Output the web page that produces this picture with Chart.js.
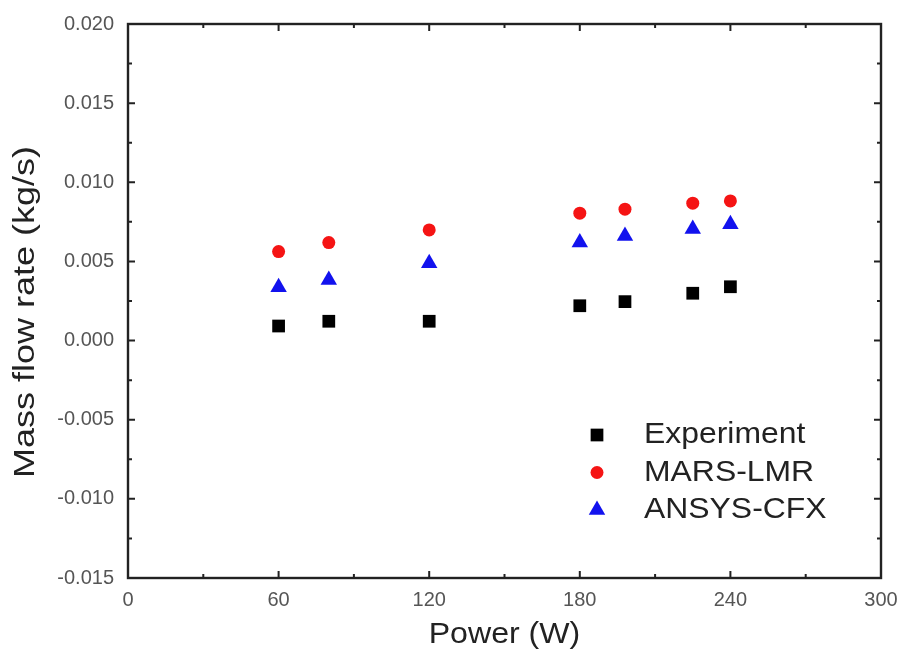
<!DOCTYPE html>
<html>
<head>
<meta charset="utf-8">
<script src="https://cdn.jsdelivr.net/npm/chart.js@4.4.0/dist/chart.umd.min.js"></script>
<style>
  body { margin: 0; background: #fff; }
  #wrap { width: 902px; height: 655px; }
</style>
</head>
<body>
<div id="wrap"><canvas id="myChart"></canvas></div>
<script>
// values
const power = [60, 80, 120, 180, 198, 225, 240];
const experiment = [0.00092, 0.00122, 0.00122, 0.0022, 0.00246, 0.00299, 0.0034];
const marsLmr = [0.00562, 0.00619, 0.00699, 0.00805, 0.0083, 0.00868, 0.00882];
const ansysCfx = [0.00337, 0.00383, 0.00489, 0.00619, 0.00661, 0.00705, 0.00735];

const xMajor = [0, 60, 120, 180, 240, 300];
const xMinor = [30, 90, 150, 210, 270];
const yMajor = [-0.015, -0.010, -0.005, 0.000, 0.005, 0.010, 0.015, 0.020];
const yMinor = [-0.0125, -0.0075, -0.0025, 0.0025, 0.0075, 0.0125, 0.0175];

const seriesNames = ['Experiment', 'MARS-LMR', 'ANSYS-CFX'];
const xTitle = 'Power (W)';
const yTitle = 'Mass flow rate (kg/s)';

const FONT = '"Liberation Sans", Arial, sans-serif';

function toPoints(ys) {
    return power.map((p, i) => ({ x: p, y: ys[i] }));
}

// inward ticks on all four sides + frame
const inwardTicks = {
    id: 'inwardTicks',
    afterDraw(chart) {
        const ctx = chart.ctx;
        const a = chart.chartArea;
        const xs = chart.scales.x, ys = chart.scales.y;
        ctx.save();
        ctx.strokeStyle = '#222';
        ctx.lineWidth = 2;
        const tickX = (vals, len) => {
            vals.forEach(v => {
                const px = xs.getPixelForValue(v);
                ctx.beginPath();
                ctx.moveTo(px, a.bottom); ctx.lineTo(px, a.bottom - len);
                ctx.moveTo(px, a.top); ctx.lineTo(px, a.top + len);
                ctx.stroke();
            });
        };
        const tickY = (vals, len) => {
            vals.forEach(v => {
                const py = ys.getPixelForValue(v);
                ctx.beginPath();
                ctx.moveTo(a.left, py); ctx.lineTo(a.left + len, py);
                ctx.moveTo(a.right, py); ctx.lineTo(a.right - len, py);
                ctx.stroke();
            });
        };
        tickX(xMajor, 7); tickX(xMinor, 4);
        tickY(yMajor, 7); tickY(yMinor, 4);
        ctx.lineWidth = 2.4;
        ctx.strokeRect(a.left, a.top, a.right - a.left, a.bottom - a.top);
        ctx.restore();
    }
};

// axis titles (the original is a bit stretched, so scale the text a little)
const axisTitles = {
    id: 'axisTitles',
    afterDraw(chart) {
        const ctx = chart.ctx;
        const a = chart.chartArea;
        ctx.save();
        ctx.fillStyle = '#222';
        ctx.font = '30px ' + FONT;
        ctx.textAlign = 'center';
        ctx.textBaseline = 'middle';

        ctx.save();
        ctx.translate((a.left + a.right) / 2, a.bottom + 57);
        ctx.scale(1.07, 1);
        ctx.fillText(xTitle, 0, 0);
        ctx.restore();

        ctx.save();
        ctx.translate(26, a.top + 288);
        ctx.rotate(-Math.PI / 2);
        ctx.scale(1.2, 1);
        ctx.fillText(yTitle, 0, 0);
        ctx.restore();

        ctx.restore();
    }
};

// legend drawn inside the plot area
const insideLegend = {
    id: 'insideLegend',
    afterDraw(chart) {
        const ctx = chart.ctx;
        const a = chart.chartArea;
        const mx = a.left + 469, tx = a.left + 516;
        let y = a.top + 411;
        ctx.save();
        ctx.font = '29px ' + FONT;
        ctx.textBaseline = 'middle';
        chart.data.datasets.forEach(ds => {
            ctx.fillStyle = ds.backgroundColor;
            ctx.strokeStyle = ds.backgroundColor;
            Chart.helpers.drawPoint(ctx, {
                pointStyle: ds.pointStyle,
                radius: ds.pointRadius,
                rotation: 0,
                borderWidth: 0
            }, mx, y);
            ctx.save();
            ctx.fillStyle = '#222';
            ctx.translate(tx, y);
            ctx.scale(1.1, 1);
            ctx.fillText(ds.label, 0, 0);
            ctx.restore();
            y += 37.5;
        });
        ctx.restore();
    }
};

const ctx = document.getElementById('myChart').getContext('2d');
const myChart = new Chart(ctx, {
    type: 'scatter',
    data: {
        datasets: [
            { label: seriesNames[0], data: toPoints(experiment), pointStyle: 'rect', pointRadius: 9,
              backgroundColor: '#000000', borderColor: '#000000', borderWidth: 0 },
            { label: seriesNames[1], data: toPoints(marsLmr), pointStyle: 'circle', pointRadius: 6.5,
              backgroundColor: '#f51414', borderColor: '#f51414', borderWidth: 0 },
            { label: seriesNames[2], data: toPoints(ansysCfx), pointStyle: 'triangle', pointRadius: 9.5,
              backgroundColor: '#1212ee', borderColor: '#1212ee', borderWidth: 0 }
        ]
    },
    options: {
        responsive: true,
        maintainAspectRatio: false,
        animation: false,
        layout: { padding: { top: 24, right: 21, left: 0, bottom: 0 } },
        plugins: {
            legend: { display: false },
            tooltip: { enabled: false }
        },
        scales: {
            x: {
                type: 'linear',
                min: 0, max: 300,
                afterBuildTicks: s => { s.ticks = xMajor.map(v => ({ value: v })); },
                afterFit: s => { s.height = 77; s.paddingLeft = 0; s.paddingRight = 0; },
                grid: { display: false, drawTicks: false },
                border: { display: false },
                ticks: {
                    padding: 10,
                    color: '#555',
                    font: { size: 20, family: FONT },
                    maxRotation: 0
                }
            },
            y: {
                type: 'linear',
                min: -0.015, max: 0.020,
                afterBuildTicks: s => { s.ticks = yMajor.map(v => ({ value: v })); },
                afterFit: s => { s.width = 128; s.paddingTop = 0; s.paddingBottom = 0; },
                grid: { display: false, drawTicks: false },
                border: { display: false },
                ticks: {
                    padding: 14,
                    color: '#555',
                    font: { size: 20, family: FONT },
                    callback: v => (Math.abs(v) < 1e-9 ? 0 : v).toFixed(3)
                }
            }
        }
    },
    plugins: [inwardTicks, axisTitles, insideLegend]
});
</script>
</body>
</html>
